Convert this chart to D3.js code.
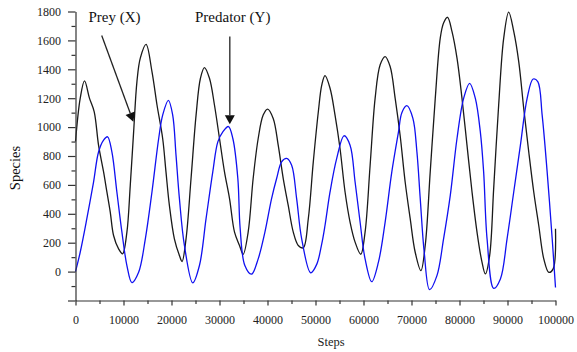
<!DOCTYPE html>
<html><head><meta charset="utf-8">
<script src="https://cdn.jsdelivr.net/npm/d3@7"></script>
<style>body{margin:0;background:#fff}svg{display:block}</style>
</head><body><svg id="c" width="577" height="352"></svg>
<script>
// Prey (X) - black
const preySteps = [0,980,1880,2920,3900,4800,5850,6540,7240,7930,8980,9810,10710,11410,12110,12800,13500,14700,15930,16980,18160,18850,19560,20600,21650,22200,23030,24070,25120,26030,26860,27910,28950,30000,31040,32090,33130,34170,34930,35970,37010,38060,39100,40020,41190,42230,43280,44320,45370,46410,47450,48500,49540,50590,51300,51980,53030,54070,55110,56160,57200,58250,59430,60330,61380,62420,63470,64510,65550,66600,67640,68680,69730,70770,71960,72860,73900,74950,75990,76680,77520,78430,79480,80520,81560,82610,83650,84600,85390,86280,87120,88160,89210,90250,91300,92340,93380,94430,95470,96510,97560,98600,99510,100000];
const preyValues = [900,1199,1320,1199,1106,875,690,551,412,250,157,123,273,597,967,1315,1477,1572,1384,1153,921,690,458,227,111,70,227,644,1083,1338,1412,1338,1153,921,690,505,273,181,120,273,644,921,1083,1125,1060,875,644,458,273,181,165,366,759,1106,1290,1356,1269,1083,852,551,343,204,120,273,736,1199,1431,1488,1419,1199,940,620,366,134,7,181,690,1199,1616,1720,1760,1662,1477,1199,875,551,273,80,-16,111,574,1153,1616,1796,1662,1453,1130,828,551,319,88,-5,19,297];
// Predator (Y) - blue
const predatorSteps = [0,980,2360,3760,4800,5850,6680,7580,8620,9670,10710,11750,13150,14550,15930,17330,18160,19350,20250,20940,21650,22690,24430,25820,27200,28600,29650,30690,31870,32780,33820,34300,35280,36670,38060,39460,40850,41900,42940,43980,45030,46070,47120,49000,50250,51290,51980,53030,54420,55950,57200,58250,59290,60330,61720,63110,64510,65900,67290,67990,69040,70290,71130,71820,72650,73760,75300,76680,78080,79480,80860,82110,83300,84340,85030,85740,87120,88520,89910,91300,92690,94090,95340,96310,97220,98260,99310,100000];
const predatorValues = [0,134,366,620,828,910,933,828,551,273,42,-76,-5,227,551,921,1083,1185,1083,806,505,181,-78,42,366,690,898,967,1004,921,644,300,42,-18,88,273,505,644,759,783,736,505,227,-8,50,190,319,551,783,940,875,620,343,88,-70,65,343,690,967,1100,1148,1060,828,505,134,-125,-28,227,528,921,1199,1303,1199,967,690,227,-116,-51,227,551,875,1199,1333,1315,1083,690,227,-110];

const xTickValues = [0,10000,20000,30000,40000,50000,60000,70000,80000,90000,100000];
const xTickLabels = ["0","10000","20000","30000","40000","50000","60000","70000","80000","90000","100000"];
const yTickValues = [-200,0,200,400,600,800,1000,1200,1400,1600,1800];
const yTickLabels = ["","0","200","400","600","800","1000","1200","1400","1600","1800"];
const xMinorTicks = d3.range(5000,100000,10000);
const yMinorTicks = d3.range(-100,1800,200);
const xTitle = "Steps", yTitle = "Species";
const annotations = [
  {label:"Prey (X)", textStep:2700, textVal:1729, fromStep:5460, fromVal:1634, toStep:12050, toVal:1037},
  {label:"Predator (Y)", textStep:24900, textVal:1729, fromStep:32150, fromVal:1627, toStep:32150, toVal:1019}
];

const svg = d3.select("#c");
const font = "'Liberation Serif','Times New Roman',serif";
const x = d3.scaleLinear().domain([0,100000]).range([75.5,555.5]);
const y = d3.scaleLinear().domain([-200,1800]).range([300.5,11.5]);

// lines
const line = d3.line().curve(d3.curveCatmullRom.alpha(0.5));
svg.append("path")
  .attr("d", line(preySteps.map((s,i)=>[x(s), y(preyValues[i])])))
  .attr("fill","none").attr("stroke","#1a1a1a").attr("stroke-width",1.3);
svg.append("path")
  .attr("d", line(predatorSteps.map((s,i)=>[x(s), y(predatorValues[i])])))
  .attr("fill","none").attr("stroke","#1010f0").attr("stroke-width",1.3);

// axes
const axisColor = "#333";
const gyMinor = svg.append("g").attr("transform","translate(75.5,0)")
  .call(d3.axisLeft(y).tickValues(yMinorTicks).tickSize(4).tickFormat(""));
const gy = svg.append("g").attr("transform","translate(75.5,0)")
  .call(d3.axisLeft(y).tickValues(yTickValues).tickSize(7.5).tickSizeOuter(0).tickPadding(7)
    .tickFormat((d,i)=>yTickLabels[i]));
const gxMinor = svg.append("g").attr("transform","translate(0,300.5)")
  .call(d3.axisBottom(x).tickValues(xMinorTicks).tickSize(3.5).tickFormat(""));
const gx = svg.append("g").attr("transform","translate(0,300.5)")
  .call(d3.axisBottom(x).tickValues(xTickValues).tickSize(5).tickSizeOuter(0).tickPadding(10)
    .tickFormat((d,i)=>xTickLabels[i]));
[gyMinor,gy,gxMinor,gx].forEach(g=>{
  g.selectAll("path.domain").attr("stroke",axisColor).attr("stroke-width",1.2);
  g.selectAll(".tick line").attr("stroke",axisColor).attr("stroke-width",1.2);
  g.selectAll("text").attr("font-family",font).attr("font-size",12).attr("fill","#222");
});
gxMinor.select("path.domain").remove();
gyMinor.select("path.domain").remove();

// titles
svg.append("text").attr("x",331).attr("y",346).attr("text-anchor","middle")
  .attr("font-family",font).attr("font-size",12.5).attr("fill","#222").text(xTitle);
svg.append("text").attr("transform","translate(20,168) rotate(-90)").attr("text-anchor","middle")
  .attr("font-family",font).attr("font-size",14.5).attr("fill","#111").text(yTitle);

// annotations
annotations.forEach(a=>{
  svg.append("text").attr("x",x(a.textStep)).attr("y",y(a.textVal))
    .attr("font-family",font).attr("font-size",15).attr("fill","#111").text(a.label);
  const x1=x(a.fromStep), y1=y(a.fromVal), x2=x(a.toStep), y2=y(a.toVal);
  const ang = Math.atan2(y2-y1,x2-x1), L=9, W=5;
  const bx = x2 - L*Math.cos(ang), by = y2 - L*Math.sin(ang);
  svg.append("line").attr("x1",x1).attr("y1",y1).attr("x2",bx).attr("y2",by)
    .attr("stroke","#222").attr("stroke-width",1.3);
  const px = -Math.sin(ang), py = Math.cos(ang);
  svg.append("path").attr("d",`M${x2},${y2}L${bx+px*W},${by+py*W}L${bx-px*W},${by-py*W}Z`)
    .attr("fill","#111");
});
</script>
</body></html>
